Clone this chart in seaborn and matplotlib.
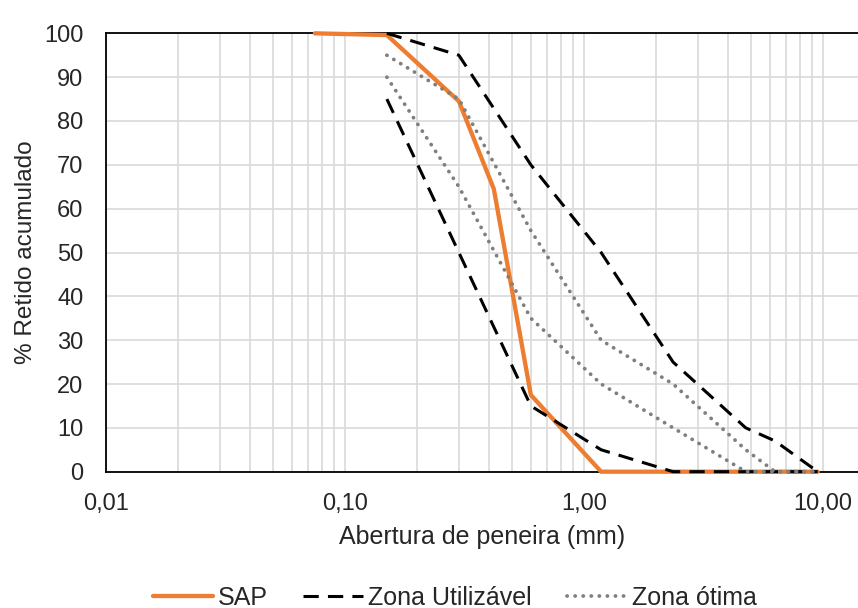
import matplotlib
matplotlib.use("Agg")
import matplotlib.pyplot as plt
import matplotlib.ticker as mticker
import numpy as np
import pandas as pd
import seaborn as sns

# Sieve openings (mm) and cumulative retained (%)
sap_abertura = [0.075, 0.15, 0.30, 0.42, 0.60, 1.18, 9.5]
sap_retido = [100, 99.6, 84.5, 64.5, 17.5, 0, 0]

util_sup_abertura = [0.15, 0.30, 0.60, 1.18, 2.36, 4.75, 6.3, 9.5]
util_sup_retido = [100, 95, 70, 50, 25, 10, 7, 0]
util_inf_abertura = [0.15, 0.30, 0.60, 1.18, 2.36, 4.75, 6.3, 9.5]
util_inf_retido = [85, 50, 15, 5, 0, 0, 0, 0]

otima_sup_abertura = [0.15, 0.30, 0.60, 1.18, 2.36, 4.75, 6.3, 9.5]
otima_sup_retido = [95, 85, 55, 30, 20, 5, 0, 0]
otima_inf_abertura = [0.15, 0.30, 0.60, 1.18, 2.36, 4.75, 6.3, 9.5]
otima_inf_retido = [90, 65, 35, 20, 10, 0, 0, 0]

x_ticks = [0.01, 0.1, 1, 10]
x_ticklabels = ["0,01", "0,10", "1,00", "10,00"]

sns.set_style("white")
plt.rcParams["font.family"] = ["Liberation Sans", "DejaVu Sans"]
plt.rcParams["font.size"] = 17

fig = plt.figure(figsize=(8.58, 6.08), dpi=100)
ax = fig.add_axes([0.1231, 0.2242, 0.8769, 0.7210])

ORANGE = "#ED7D31"
GRAY = "#7F7F7F"
TEXT = "#262626"


def draw(xs, ys, label, **kw):
    df = pd.DataFrame({"abertura": xs, "retido": ys})
    sns.lineplot(data=df, x="abertura", y="retido", ax=ax, sort=False,
                 estimator=None, label=label, legend=False, clip_on=False, **kw)


draw(sap_abertura, sap_retido, "SAP", color=ORANGE, linewidth=3.1,
     solid_joinstyle="miter", zorder=3)

dash_kw = dict(color="black", linewidth=2.2, linestyle=(0, (5.0, 3.0)),
               dash_capstyle="butt", zorder=4)
draw(util_sup_abertura, util_sup_retido, "Zona Utilizável", **dash_kw)
draw(util_inf_abertura, util_inf_retido, "_nolegend_", **dash_kw)

dot_kw = dict(color=GRAY, linewidth=2.7, linestyle=(0, (0.05, 2.1)),
              dash_capstyle="round", zorder=5)
draw(otima_sup_abertura, otima_sup_retido, "Zona ótima", **dot_kw)
draw(otima_inf_abertura, otima_inf_retido, "_nolegend_", **dot_kw)

ax.set_xscale("log")
ax.set_xlim(0.01, 14.0)
ax.set_ylim(0, 100)
ax.set_yticks(np.arange(0, 101, 10))
ax.set_xticks(x_ticks)
ax.set_xticklabels(x_ticklabels)
ax.xaxis.set_minor_locator(mticker.LogLocator(base=10, subs=np.arange(2, 10)))
ax.xaxis.set_minor_formatter(mticker.NullFormatter())

ax.grid(True, which="both", axis="x", color="#D9D9D9", linewidth=1.2)
ax.grid(True, which="major", axis="y", color="#D9D9D9", linewidth=1.2)
ax.set_axisbelow(True)

for side in ("left", "bottom", "top"):
    ax.spines[side].set_color("black")
    ax.spines[side].set_linewidth(1.3)
ax.spines["right"].set_visible(False)

ax.tick_params(axis="both", which="major", direction="out", length=5,
               width=1.2, color="black", labelsize=17, labelcolor=TEXT)
ax.tick_params(axis="x", which="major", pad=10.5)
ax.tick_params(axis="y", which="major", pad=11)
ax.tick_params(axis="x", which="minor", length=0)

ax.set_xlabel("Abertura de peneira (mm)", fontsize=18, color=TEXT,
              labelpad=7)
ax.set_ylabel("% Retido acumulado", fontsize=17.5, color=TEXT,
              labelpad=5)

fig.legend(loc="center", bbox_to_anchor=(0.53, 0.017), ncol=3, frameon=False,
           fontsize=18, handlelength=2.4, handletextpad=0.2,
           columnspacing=1.4, labelcolor=TEXT)

fig.savefig("out.png", dpi=100)
